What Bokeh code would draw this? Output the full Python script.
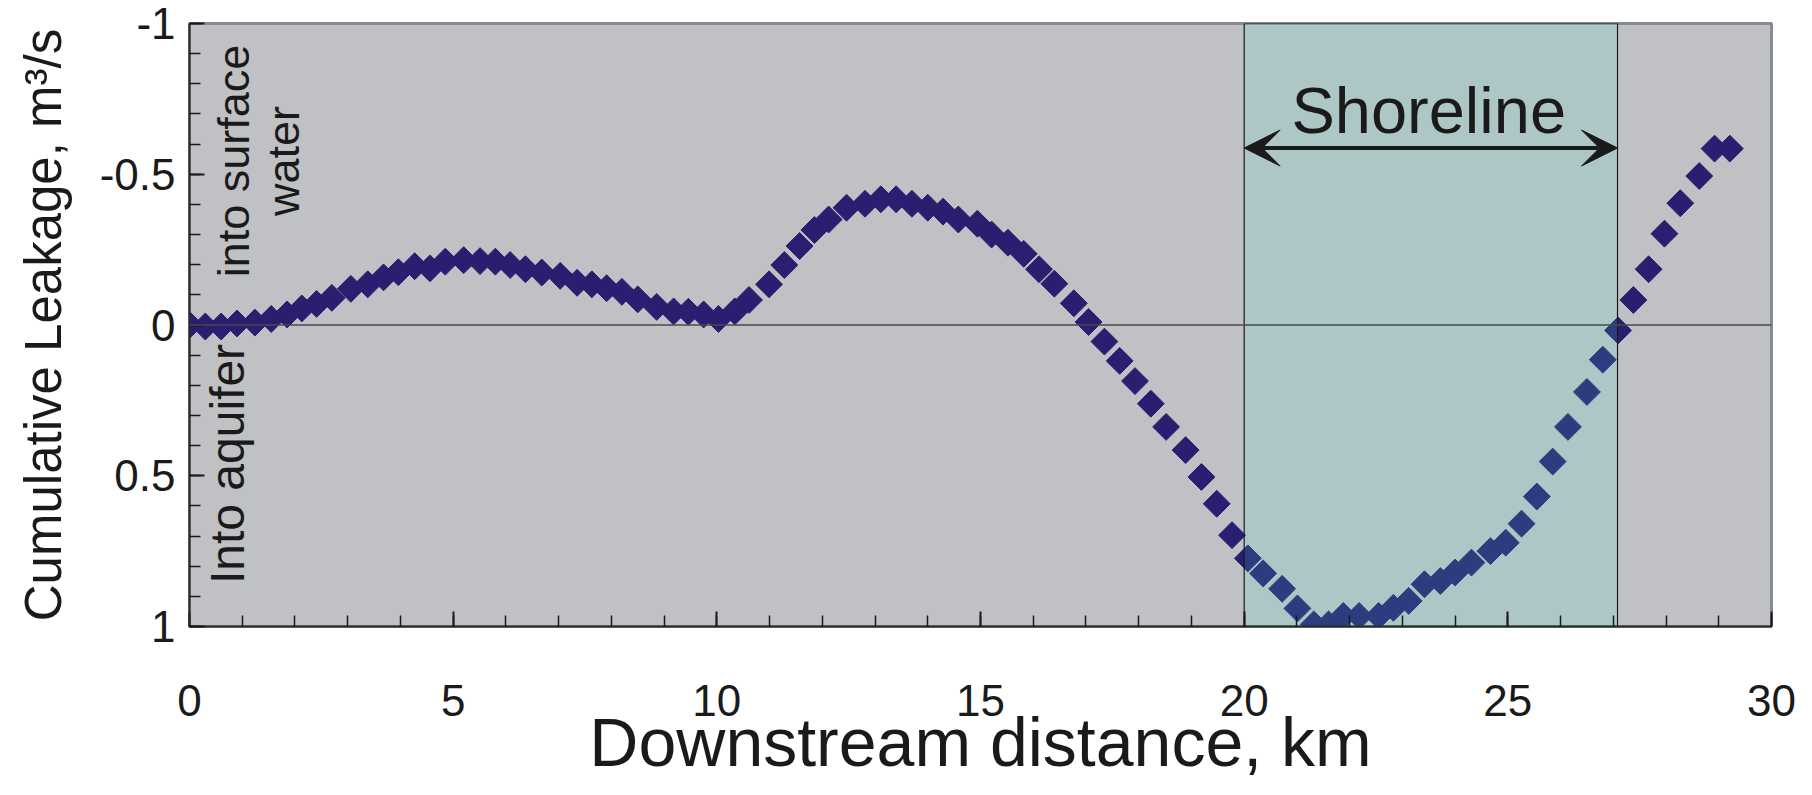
import numpy as np
from bokeh.plotting import figure
from bokeh.models import (Range1d, FixedTicker, NumeralTickFormatter, Arrow,
                          VeeHead, Label, Span, ColumnDataSource)
from bokeh.embed import file_html
from bokeh.resources import INLINE

# ---- data ----
distance_km = [0.00, 0.30, 0.60, 0.90, 1.24, 1.55, 1.85, 2.13, 2.41, 2.70,
               3.06, 3.38, 3.68, 3.96, 4.27, 4.56, 4.85, 5.20, 5.51, 5.80,
               6.08, 6.37, 6.68, 7.03, 7.35, 7.63, 7.91, 8.20, 8.50, 8.86,
               9.18, 9.46, 9.75, 10.03, 10.34, 10.61, 10.99, 11.28, 11.57, 11.85,
               12.12, 12.46, 12.81, 13.11, 13.40, 13.70, 14.00, 14.29, 14.58, 14.94,
               15.21, 15.52, 15.82, 16.11, 16.40, 16.77, 17.05, 17.35, 17.64, 17.93,
               18.23, 18.52, 18.89, 19.19, 19.48, 19.77, 20.07, 20.36, 20.72, 21.01,
               21.32, 21.60, 21.88, 22.18, 22.55, 22.83, 23.12, 23.42, 23.72, 24.00,
               24.31, 24.67, 24.96, 25.26, 25.55, 25.85, 26.14, 26.50, 26.80, 27.09,
               27.38, 27.67, 27.97, 28.27, 28.63, 28.92, 29.21]
leakage_m3s = [0.000, 0.005, 0.005, -0.005, -0.008, -0.020, -0.035, -0.055, -0.070, -0.090,
               -0.120, -0.135, -0.158, -0.175, -0.195, -0.188, -0.210, -0.215, -0.212, -0.210,
               -0.199, -0.185, -0.174, -0.163, -0.140, -0.135, -0.122, -0.110, -0.085, -0.060,
               -0.045, -0.044, -0.035, -0.020, -0.045, -0.083, -0.135, -0.199, -0.262, -0.315,
               -0.350, -0.389, -0.402, -0.417, -0.417, -0.402, -0.389, -0.376, -0.350, -0.336,
               -0.300, -0.273, -0.236, -0.185, -0.137, -0.072, -0.010, 0.055, 0.119, 0.186,
               0.261, 0.338, 0.415, 0.504, 0.593, 0.697, 0.774, 0.824, 0.875, 0.940,
               0.993, 0.993, 0.965, 0.965, 0.965, 0.938, 0.915, 0.860, 0.849, 0.821,
               0.788, 0.750, 0.722, 0.659, 0.569, 0.453, 0.338, 0.222, 0.115, 0.018,
               -0.083, -0.185, -0.303, -0.404, -0.494, -0.585, -0.585]
shoreline_km = [20.0, 27.08]
x_tick_values = [0, 5, 10, 15, 20, 25, 30]
y_tick_values = [-1, -0.5, 0, 0.5, 1]

FONT = "Liberation Sans"
INK = "#1a1a1a"

p = figure(width=1800, height=795, output_backend="svg", toolbar_location=None,
           x_range=Range1d(0, 30), y_range=Range1d(1, -1),
           min_border_left=189, min_border_right=29, min_border_top=23,
           min_border_bottom=169)
p.background_fill_color = "#C0C1C5"
p.border_fill_color = "white"
p.outline_line_color = "#868B90"
p.outline_line_width = 3
p.grid.visible = False

# zero line
p.add_layout(Span(location=0, dimension="width", line_color="#4a4a4a", line_width=1.5))

src = ColumnDataSource(dict(x=distance_km, y=leakage_m3s))
p.scatter("x", "y", source=src, marker="square", size=19, angle=np.pi / 4,
          fill_color="#2A1E70", line_color="#2A1E70", line_width=1)

# shoreline box (translucent overlay)
p.quad(left=[shoreline_km[0]], right=[shoreline_km[1]], bottom=[1.01], top=[-1.0],
       fill_color="#41E9D8", fill_alpha=0.15, line_color=INK, line_width=1.2)

# double arrow
p.add_layout(Arrow(start=VeeHead(size=36, fill_color=INK, line_color=INK),
                   end=VeeHead(size=36, fill_color=INK, line_color=INK),
                   x_start=shoreline_km[0], x_end=shoreline_km[1],
                   y_start=-0.587, y_end=-0.587, line_width=4, line_color=INK))
p.add_layout(Label(x=23.5, y=-0.71, text="Shoreline",
                   text_align="center", text_baseline="alphabetic",
                   text_font=FONT, text_font_size="65px", text_color=INK))

# rotated notes
for txt, xx, yy, fs in [("into surface", 0.84, -0.544, "45px"),
                        ("water", 1.79, -0.544, "45px"),
                        ("Into aquifer", 0.72, 0.461, "48px")]:
    p.add_layout(Label(x=xx, y=yy, text=txt, angle=np.pi / 2, text_align="center",
                       text_baseline="alphabetic", text_font=FONT,
                       text_font_size=fs, text_color=INK))

# axes
xa = p.xaxis[0]
xa.ticker = FixedTicker(ticks=x_tick_values, minor_ticks=list(range(0, 31)))
xa.axis_label = "Downstream distance, km"
ya = p.yaxis[0]
ya.ticker = FixedTicker(ticks=y_tick_values, minor_ticks=[i / 10 for i in range(-10, 11)])
ya.formatter = NumeralTickFormatter(format="0.[0]")
ya.axis_label = "Cumulative Leakage, m³/s"

for ax in (xa, ya):
    ax.axis_line_color = "#2b2b2b"
    ax.axis_line_width = 2
    ax.major_tick_in = 15
    ax.major_tick_out = 0
    ax.minor_tick_in = 11
    ax.minor_tick_out = 0
    ax.major_tick_line_color = INK
    ax.major_tick_line_width = 2
    ax.minor_tick_line_color = INK
    ax.minor_tick_line_width = 1.5
    ax.major_label_text_font = FONT
    ax.major_label_text_font_size = "44px"
    ax.major_label_text_color = INK
    ax.axis_label_text_font = FONT
    ax.axis_label_text_font_style = "normal"
    ax.axis_label_text_color = INK

xa.major_label_standoff = 58
xa.axis_label_text_font_size = "68px"
xa.axis_label_standoff = -15
ya.major_label_standoff = 14
ya.axis_label_text_font_size = "51px"
ya.axis_label_standoff = 25

open("out.html", "w").write(file_html(p, INLINE))
